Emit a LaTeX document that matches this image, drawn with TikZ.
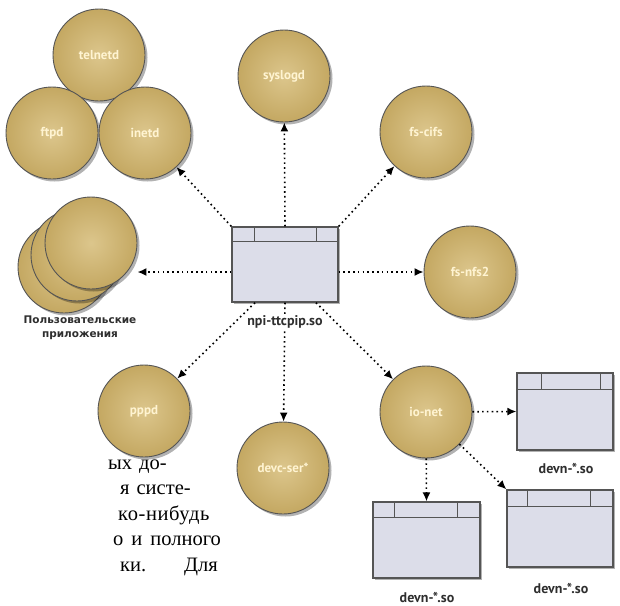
\documentclass[tikz,border=0pt]{standalone}
\usepackage{fontspec}
\setmainfont{Liberation Serif}
\newfontfamily\lblfont{PT Sans}
\newfontfamily\heavyfont{DejaVu Sans}
\usetikzlibrary{arrows.meta,shadows}
\definecolor{goldlt}{HTML}{DCC68C}
\definecolor{golddk}{HTML}{C4A862}
\definecolor{cream}{HTML}{FFF4D2}
\definecolor{boxfill}{HTML}{DCDDE9}
\definecolor{edgegray}{HTML}{555555}
\definecolor{labtext}{HTML}{2E2E2E}
\tikzset{
  proc/.style={circle, minimum size=92pt, inner sep=0pt, draw=edgegray, line width=0.9pt,
    inner color=goldlt, outer color=golddk,
    drop shadow={shadow xshift=2.5pt, shadow yshift=-2.5pt, opacity=0.3, fill=black},
    text=cream, font=\lblfont\bfseries\fontsize{13}{13}\selectfont},
  libbox/.style={draw=edgegray, line width=1.3pt, fill=boxfill, inner sep=0pt,
    drop shadow={shadow xshift=2pt, shadow yshift=-2pt, opacity=0.3, fill=black}},
  boxline/.style={draw=edgegray, line width=1.3pt},
  arr/.style={draw=black, line width=1.6pt, dash pattern=on 1.6pt off 3.2pt,
    -{Latex[length=9pt,width=8pt]}},
  blab/.style={font=\lblfont\bfseries\fontsize{14}{14}\selectfont, text=labtext},
  body/.style={anchor=base west, inner sep=0pt, font=\fontsize{20.5}{25}\selectfont}
}
\newcommand\mylibbox[8]{%
  \node[libbox, minimum width=#4pt, minimum height=#5pt] (#1) at (#2,#3) {};
  \draw[boxline] ([yshift=-#6pt]#1.north west) -- ([yshift=-#6pt]#1.north east);
  \draw[boxline] ([xshift=#7pt]#1.north west) -- ([xshift=#7pt,yshift=-#6pt]#1.north west);
  \draw[boxline] ([xshift=-#8pt]#1.north east) -- ([xshift=-#8pt,yshift=-#6pt]#1.north east);
}
\begin{document}
\begin{tikzpicture}[x=1pt,y=-1pt]
\fill[white] (0,0) rectangle (620,605);
\useasboundingbox (0,0) rectangle (620,605);

% process circles
\node[proc] (telnetd) at (99,55) {telnetd};
\node[proc] (ftpd) at (52,133) {ftpd};
\node[proc] (inetd) at (145,133) {inetd};
\node[proc] (syslogd) at (284,76) {syslogd};
\node[proc] (fscifs) at (426,132) {fs-cifs};
\node[proc] (fsnfs2) at (470,272) {fs-nfs2};
\node[proc] (pppd) at (144,411) {pppd};
\node[proc] (devc) at (283,468) {devc-ser*};
\node[proc] (ionet) at (426,412) {io-net};

% user applications stack
\node[proc] (u3) at (64,267) {};
\node[proc] (u2) at (77,255) {};
\node[proc] (u1) at (91,243) {};
\node[font=\heavyfont\bfseries\fontsize{10.5}{14}\selectfont, text=labtext, align=center, inner sep=0pt] (ulab) at (80,328) {Пользовательские\\приложения};

% library boxes
\mylibbox{box}{285}{264.5}{106}{75}{15}{23}{22}
\mylibbox{b1}{565}{411.5}{96}{77}{17}{25}{13}
\mylibbox{b2}{560}{528.5}{106}{77}{17}{21}{23}
\mylibbox{b3}{426.5}{540}{107}{76}{16}{22}{23}

% connectors
\draw[arr] (box.north) -- (syslogd);
\draw[arr] (box.north west) -- (inetd);
\draw[arr] (box.north east) -- (fscifs);
\coordinate (bw) at ([yshift=-7.5pt]box.west);
\coordinate (be) at ([yshift=-7.5pt]box.east);
\draw[arr] (bw) -- (bw -| u1.east);
\draw[arr] (be) -- (fsnfs2);
\coordinate (bs1) at ([xshift=-30pt]box.south);
\coordinate (bs3) at ([xshift=31pt]box.south);
\draw[arr] (bs1) -- (pppd);
\draw[arr] (box.south) -- (devc);
\draw[arr] (bs3) -- (ionet);
\draw[arr] (ionet) -- (b1.west);
\draw[arr] (ionet) -- (b3.north);
\draw[arr] (ionet) -- (b2.north west);

% labels
\node[blab, fill=white, inner sep=2pt] (boxlab) at (285,322) {npi-ttcpip.so};
\node[blab] (b1lab) at (566,468) {devn-*.so};
\node[blab] (b2lab) at (561,588) {devn-*.so};
\node[blab] (b3lab) at (427,597) {devn-*.so};

% leftover page text
\node[body] (t1) at (108,469) {ых\hspace{7pt}до-};
\node[body] (t2) at (120,494.5) {я\hspace{7pt}систе-};
\node[body] (t3) at (118,520) {\addfontfeature{LetterSpace=3}ко-нибудь};
\node[body] (t4) at (113,545.5) {о\hspace{8pt}и\hspace{8pt}полного};
\node[body] (t5) at (120,571) {ки.\hspace{38pt}Для};
\end{tikzpicture}
\end{document}
